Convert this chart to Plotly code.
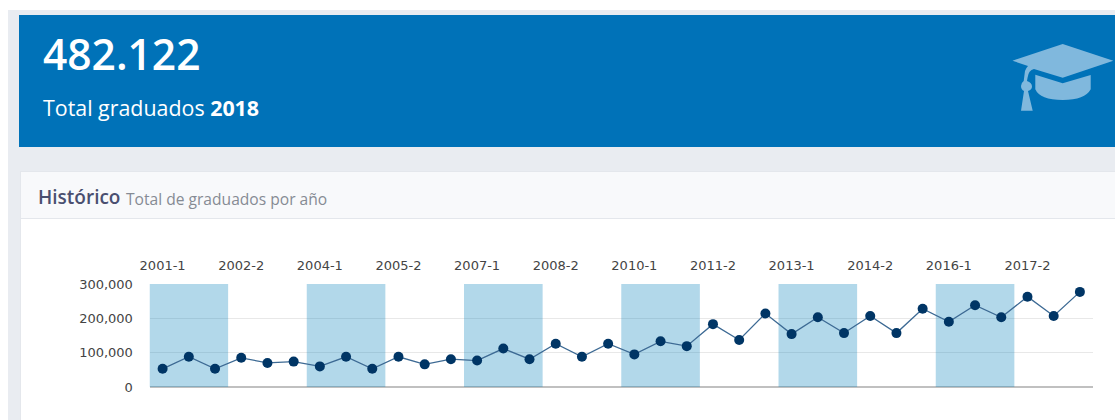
import plotly.graph_objects as go

WIDTH = 1115
HEIGHT = 420

COLORS = {
    "page": "#e9ecf1",
    "header": "#0072b8",
    "icon": "#80b8dd",
    "card_head": "#f8f9fb",
    "card_line": "#e4e7ec",
    "title": "#4a4f70",
    "muted": "#868b94",
    "band": "rgba(0,125,185,0.30)",
    "grid": "#e8e8e8",
    "axis": "#c0c0c0",
    "line": "#3d6a94",
    "marker": "#003565",
    "tick": "#444444",
}

periods = [f"{year}-{half}" for year in range(2001, 2019) for half in (1, 2)]
graduados = [
    53000, 88000, 53000, 85000, 70000, 74000, 60000, 88000, 53000, 88000, 66000, 81000,
    77000, 112000, 81000, 126000, 88000, 126000, 95000, 133000, 119000, 183000, 137000, 214000,
    154000, 203000, 157000, 207000, 157000, 228000, 190000, 238000, 203000, 263000, 207000, 277000,
]
y_ticks = [0, 100000, 200000, 300000]
x_ticks = periods[::3]
band_starts = x_ticks[::2]


def px(x):
    return x / WIDTH


def py(y):
    return 1 - y / HEIGHT


def box(x0, y0, x1, y1, color):
    return dict(type="rect", xref="paper", yref="paper", layer="below",
                x0=px(x0), y0=py(y0), x1=px(x1), y1=py(y1),
                fillcolor=color, line_width=0)


def path(cmds, color):
    # cmds are page pixels, flipped over to paper coords
    parts = []
    for c in cmds:
        if c[0] == "Z":
            parts.append("Z")
        else:
            coords = [f"{px(c[i]):.5f},{py(c[i + 1]):.5f}" for i in range(1, len(c), 2)]
            parts.append(c[0] + " ".join(coords))
    return dict(type="path", xref="paper", yref="paper", layer="below",
                path=" ".join(parts), fillcolor=color, line_width=0)


def label(x, y, text, size, color, weight=400):
    return dict(xref="paper", yref="paper", x=px(x), y=py(y), text=text, showarrow=False,
                xanchor="left", yanchor="middle", xshift=0,
                font=dict(family="Open Sans", size=size, color=color, weight=weight))


fig = go.Figure()

fig.add_trace(go.Scatter(
    x=periods,
    y=graduados,
    mode="lines+markers",
    line=dict(color=COLORS["line"], width=1.3),
    marker=dict(color=COLORS["marker"], size=10),
    hoverinfo="x+y",
))

page_shapes = [
    box(8, 10, WIDTH, HEIGHT, COLORS["page"]),
    box(19, 15, WIDTH, 147, COLORS["header"]),
    box(20, 172, WIDTH, HEIGHT, "#ffffff"),
    box(20, 172, WIDTH, 218, COLORS["card_head"]),
    box(20, 218, WIDTH, 219, COLORS["card_line"]),
    box(20, 172, 21, HEIGHT, COLORS["card_line"]),
    box(20, 171, WIDTH, 172, COLORS["card_line"]),
    # graduation cap
    path([("M", 1012.5, 60.7), ("L", 1062.7, 44), ("L", 1113.3, 60.7), ("L", 1062.7, 77.7),
          ("L", 1034, 69), ("Q", 1028.5, 70, 1027.5, 78), ("L", 1027, 81),
          ("Q", 1032, 83, 1032, 86.5), ("Q", 1032, 89.5, 1028, 91),
          ("L", 1032.7, 110.7), ("L", 1021, 110.7), ("L", 1024, 91),
          ("Q", 1021, 89.5, 1021, 86), ("Q", 1021, 83, 1023.7, 81),
          ("L", 1025, 71), ("Q", 1026, 68, 1028, 66), ("Z",)], COLORS["icon"]),
    path([("M", 1035.3, 74.7), ("L", 1062.7, 83.3), ("L", 1090.7, 75), ("L", 1090.7, 89.3),
          ("Q", 1085, 100, 1062.7, 100), ("Q", 1040, 100, 1035.3, 89.3), ("Z",)], COLORS["icon"]),
]
for shape in page_shapes:
    fig.add_shape(**shape)

# every other three-period block is shaded
for start in band_starts:
    i = periods.index(start)
    fig.add_shape(type="rect", xref="x", yref="y", x0=i - 0.5, x1=i + 2.5,
                  y0=y_ticks[0], y1=y_ticks[-1],
                  fillcolor=COLORS["band"], line_width=0, layer="between")

annotations = [
    label(41, 54, "482.122", 42.5, "#ffffff", 600),
    label(41, 107, "Total graduados <b>2018</b>", 21.4, "#ffffff"),
    label(36, 197, "Histórico", 19, COLORS["title"], 600),
    label(123.5, 198.5, "Total de graduados por año", 15.6, COLORS["muted"]),
]

fig.update_layout(
    width=WIDTH,
    height=HEIGHT,
    margin=dict(l=0, r=0, t=0, b=0, autoexpand=False),
    paper_bgcolor="#ffffff",
    plot_bgcolor="rgba(0,0,0,0)",
    showlegend=False,
    annotations=annotations,
    xaxis=dict(
        domain=[px(149.5), px(1093)],
        type="category",
        range=[-0.5, 35.5],
        side="top",
        tickmode="array",
        tickvals=x_ticks,
        ticktext=x_ticks,
        tickangle=0,
        ticks="outside",
        ticklen=7,
        tickcolor="rgba(0,0,0,0)",
        showgrid=False,
        showline=False,
        zeroline=False,
        tickfont=dict(family="DejaVu Sans", size=13, color=COLORS["tick"]),
    ),
    yaxis=dict(
        # a hair of headroom so the 300,000 gridline is not clipped at the edge
        domain=[py(387), py(283.3)],
        range=[0, 302000],
        tickmode="array",
        tickvals=y_ticks,
        tickformat=",d",
        ticks="outside",
        ticklen=13,
        tickcolor="rgba(0,0,0,0)",
        gridcolor=COLORS["grid"],
        gridwidth=1,
        zeroline=True,
        zerolinecolor=COLORS["axis"],
        zerolinewidth=1.5,
        showline=False,
        tickfont=dict(family="DejaVu Sans", size=13, color=COLORS["tick"]),
    ),
)

fig.write_html(
    "out.html",
    config=dict(displayModeBar=False),
    post_script="document.body.style.margin='0';document.body.style.overflow='hidden';",
)
